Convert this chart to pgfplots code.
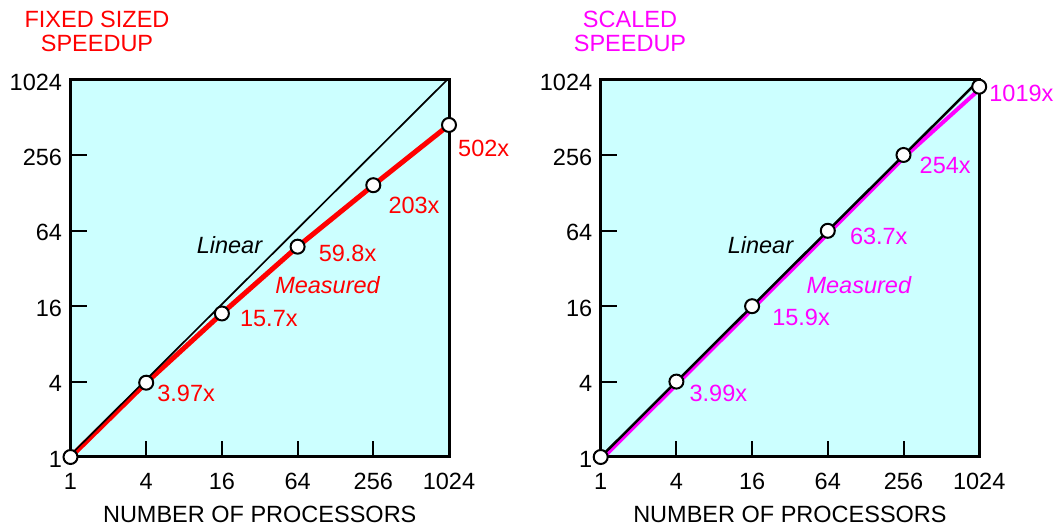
\documentclass[border=0pt]{standalone}
\usepackage{fontspec}
\setmainfont{Liberation Sans}
\usepackage{pgfplots}
\pgfplotsset{compat=1.18}
\definecolor{bgcyan}{HTML}{CCFFFF}
\definecolor{mag}{HTML}{FF00FF}
\definecolor{rd}{HTML}{FF0000}
\newcommand{\bigf}{\fontsize{23.5}{24}\selectfont}
\pgfplotsset{every axis/.append style={
  scale only axis, width=378.5pt, height=377pt,
  xmin=1, xmax=1024, ymin=1, ymax=1024,
  xtick={1,4,16,64,256,1024}, ytick={1,4,16,64,256,1024},
  xticklabels={\mbox{1},\mbox{4},\mbox{16},\mbox{64},\mbox{256},\mbox{1024}},
  yticklabels={\mbox{1},\mbox{4},\mbox{16},\mbox{64},\mbox{256},\mbox{1024}},
  xtick pos=left, ytick pos=left,
  tick align=inside, major tick length=16pt,
  every major tick/.append style={line width=2pt, black},
  axis line style={line width=3pt, black},
  tick label style={font=\bigf},
  xticklabel style={yshift=-13pt},
  yticklabel style={xshift=-5pt, yshift=-2pt},
  xlabel style={font=\bigf, at={(axis description cs:0.5,0)}, anchor=center, yshift=-57pt},
  clip=false,
  anchor=south west,
}}
\tikzset{lab/.style={font=\bigf, anchor=west, inner sep=0pt}}
\begin{document}
\begin{tikzpicture}
\path (0,0) rectangle (1055pt,529pt);
% left
\begin{axis}[set layers, xmode=log, ymode=log, log basis x=2, log basis y=2,
  at={(70.5pt,72pt)}, axis background/.style={fill=bgcyan},
  xlabel={NUMBER OF PROCESSORS}]
\addplot[black, line width=2pt, forget plot] coordinates {(4,1) (4,1.342)};
\addplot[black, line width=2pt, forget plot] coordinates {(16,1) (16,1.342)};
\addplot[black, line width=2pt, forget plot] coordinates {(64,1) (64,1.342)};
\addplot[black, line width=2pt, forget plot] coordinates {(256,1) (256,1.342)};
\addplot[black, line width=2pt, forget plot] coordinates {(1,4) (1.341,4)};
\addplot[black, line width=2pt, forget plot] coordinates {(1,16) (1.341,16)};
\addplot[black, line width=2pt, forget plot] coordinates {(1,64) (1.341,64)};
\addplot[black, line width=2pt, forget plot] coordinates {(1,256) (1.341,256)};
\addplot[rd, line width=5pt] coordinates {(1,1) (4,3.92) (16,14.0) (64,47.8) (256,148) (1024,448)};
\addplot[black, line width=1.7pt, xshift=-1pt, yshift=1pt] coordinates {(1,1) (1024,1024)};
\addplot[only marks, mark=*, mark size=7pt, mark options={fill=white, draw=black, line width=2pt}] coordinates {(1,1) (4,3.92) (16,14.0) (64,47.8) (256,148) (1024,448)};
\node[lab, text=rd, xshift=11pt, yshift=-11pt] at (axis cs:4,3.92) {3.97x};
\node[lab, text=rd, xshift=18pt, yshift=-5pt] at (axis cs:16,14.0) {15.7x};
\node[lab, text=rd, xshift=21pt, yshift=-7pt] at (axis cs:64,47.8) {59.8x};
\node[lab, text=rd, xshift=15pt, yshift=-20pt] at (axis cs:256,148) {203x};
\node[lab, text=rd, xshift=9pt, yshift=-23pt] at (axis cs:1024,448) {502x};
\node[font=\bigf\itshape, text=black, inner sep=0pt] at (rel axis cs:0.420,0.562) {Linear};
\node[font=\bigf\itshape, text=rd, inner sep=0pt] at (rel axis cs:0.679,0.456) {Measured};
\end{axis}
\node[font=\bigf, text=rd, align=center] at (97pt,498pt) {FIXED SIZED\\SPEEDUP};
% right
\begin{axis}[set layers, xmode=log, ymode=log, log basis x=2, log basis y=2,
  at={(600.7pt,72pt)}, axis background/.style={fill=bgcyan},
  xlabel={NUMBER OF PROCESSORS}]
\addplot[black, line width=2pt, forget plot] coordinates {(4,1) (4,1.342)};
\addplot[black, line width=2pt, forget plot] coordinates {(16,1) (16,1.342)};
\addplot[black, line width=2pt, forget plot] coordinates {(64,1) (64,1.342)};
\addplot[black, line width=2pt, forget plot] coordinates {(256,1) (256,1.342)};
\addplot[black, line width=2pt, forget plot] coordinates {(1,4) (1.341,4)};
\addplot[black, line width=2pt, forget plot] coordinates {(1,16) (1.341,16)};
\addplot[black, line width=2pt, forget plot] coordinates {(1,64) (1.341,64)};
\addplot[black, line width=2pt, forget plot] coordinates {(1,256) (1.341,256)};
\addplot[mag, line width=4pt, xshift=1.5pt, yshift=-1.5pt] coordinates {(1,1) (4,4.0) (16,16.0) (64,64.0) (256,258) (1024,905)};
\addplot[black, line width=2.5pt] coordinates {(1,1) (1024,1024)};
\addplot[only marks, mark=*, mark size=7pt, mark options={fill=white, draw=black, line width=2pt}] coordinates {(1,1) (4,4.0) (16,16.0) (64,64.0) (256,258) (1024,905)};
\node[lab, text=mag, xshift=13pt, yshift=-12pt] at (axis cs:4,4.0) {3.99x};
\node[lab, text=mag, xshift=20pt, yshift=-11pt] at (axis cs:16,16.0) {15.9x};
\node[lab, text=mag, xshift=22pt, yshift=-6pt] at (axis cs:64,64.0) {63.7x};
\node[lab, text=mag, xshift=16pt, yshift=-10pt] at (axis cs:256,258) {254x};
\node[lab, text=mag, xshift=10pt, yshift=-7pt] at (axis cs:1024,905) {1019x};
\node[font=\bigf\itshape, text=black, inner sep=0pt] at (rel axis cs:0.422,0.562) {Linear};
\node[font=\bigf\itshape, text=mag, inner sep=0pt] at (rel axis cs:0.682,0.456) {Measured};
\end{axis}
\node[font=\bigf, text=mag, align=center] at (630pt,498pt) {SCALED\\SPEEDUP};
\end{tikzpicture}
\end{document}
